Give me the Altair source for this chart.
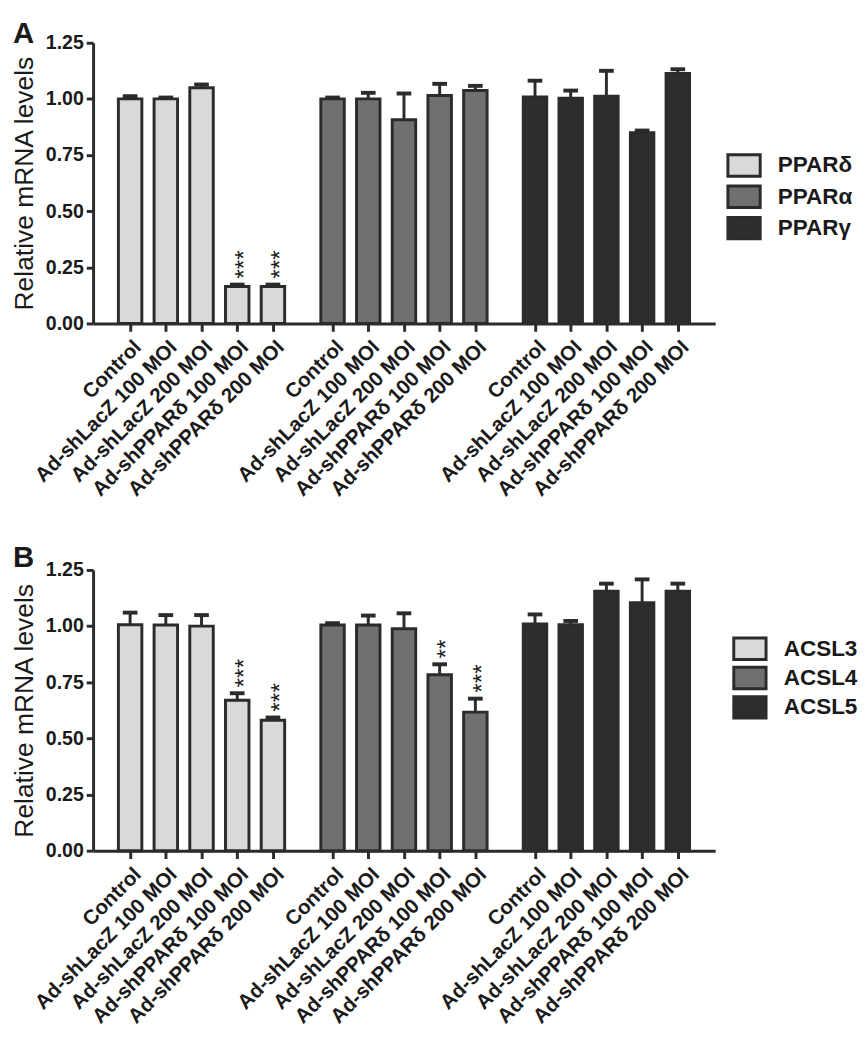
import json
import altair as alt
import pandas as pd

# ---------------- data ----------------
conditions = ["Control", "Ad-shLacZ 100 MOI", "Ad-shLacZ 200 MOI",
              "Ad-shPPARδ 100 MOI", "Ad-shPPARδ 200 MOI"]

genes_a = ["PPARδ", "PPARα", "PPARγ"]
a_ppard = [1.000, 1.000, 1.050, 0.165, 0.165]
a_ppard_err = [0.012, 0.006, 0.014, 0.008, 0.008]
a_ppara = [1.000, 1.000, 0.907, 1.015, 1.037]
a_ppara_err = [0.006, 0.027, 0.117, 0.052, 0.021]
a_pparg = [1.009, 1.003, 1.012, 0.849, 1.113]
a_pparg_err = [0.072, 0.034, 0.113, 0.010, 0.019]
a_sig = [["", "", "", "***", "***"], ["", "", "", "", ""], ["", "", "", "", ""]]

genes_b = ["ACSL3", "ACSL4", "ACSL5"]
b_acsl3 = [1.006, 1.005, 1.000, 0.670, 0.581]
b_acsl3_err = [0.054, 0.044, 0.049, 0.031, 0.012]
b_acsl4 = [1.005, 1.005, 0.988, 0.783, 0.617]
b_acsl4_err = [0.008, 0.042, 0.069, 0.047, 0.060]
b_acsl5 = [1.009, 1.006, 1.155, 1.104, 1.155]
b_acsl5_err = [0.043, 0.017, 0.034, 0.104, 0.034]
b_sig = [["", "", "", "***", "***"], ["", "", "", "**", "***"], ["", "", "", "", ""]]

y_ticks = [0, 0.25, 0.5, 0.75, 1.0, 1.25]

# ---------------- style ----------------
FILLS = ["#d8d9db", "#707072", "#2d2d2e"]
INK = "#2b2b2b"
TXT = "#1a1a1a"
FONT = "Liberation Sans"
GROUP_STEP = 5.67
W, H = 636, 287

tick_positions = [ci + gi * GROUP_STEP for gi in range(len(genes_a)) for ci in range(len(conditions))]
label_expr = (json.dumps(conditions, ensure_ascii=False)
              + f"[round(datum.value - floor(datum.value/5.6)*{GROUP_STEP})]")


def make_df(genes, means, errs, sigs):
    rows = []
    for gi, g in enumerate(genes):
        for ci, c in enumerate(conditions):
            rows.append(dict(gene=g, cond=c, gi=gi, ci=ci,
                             val=means[gi][ci], err=errs[gi][ci], sig=sigs[gi][ci]))
    return pd.DataFrame(rows)


def panel(df, genes, letter, letter_x, letter_y, legend_x, legend_y, row_pad):
    base = alt.Chart(df).transform_calculate(
        pos=f"datum.ci + datum.gi * {GROUP_STEP}",
        hi="datum.val + datum.err",
    )
    x = alt.X("pos:Q",
              scale=alt.Scale(domain=[-0.9, 16.25], nice=False, zero=False),
              axis=alt.Axis(values=tick_positions, labelExpr=label_expr,
                            labelAngle=-45, labelAlign="right", labelBaseline="top",
                            labelPadding=5, labelFontSize=21, labelOverlap=False,
                            labelFlush=False, labelBound=False, labelLimit=0,
                            tickSize=8, title=None, grid=False))
    y = alt.Y("val:Q",
              scale=alt.Scale(domain=[0, 1.25], nice=False),
              axis=alt.Axis(values=y_ticks, format=".2f", title="Relative mRNA levels",
                            tickSize=7, labelPadding=3, titlePadding=7, grid=False,
                            labelFontSize=20, titleFontSize=27, titleFontWeight="normal"))
    bars = base.mark_bar(size=24, stroke=INK, strokeWidth=3).encode(
        x=x, y=y,
        fill=alt.Fill("gene:N", scale=alt.Scale(domain=genes, range=FILLS),
                      legend=alt.Legend(orient="none", legendX=legend_x, legendY=legend_y,
                                        title=None, symbolType="M-1.5,-1H1.5V1H-1.5Z",
                                        symbolSize=484, symbolStrokeWidth=3,
                                        symbolStrokeColor=INK, symbolOpacity=1,
                                        labelFont=FONT, labelFontSize=23,
                                        labelFontWeight="bold", labelColor=TXT,
                                        labelOffset=22, rowPadding=row_pad, padding=0)),
    )
    rules = base.mark_rule(color=INK, strokeWidth=3).encode(
        x="pos:Q", y="val:Q", y2="hi:Q")
    caps = base.mark_tick(orient="horizontal", size=15, thickness=4, color=INK, opacity=1).encode(
        x="pos:Q", y="hi:Q")
    stars = base.mark_text(angle=270, align="left", baseline="middle", dx=6, dy=7,
                           fontSize=25, font=FONT, color=TXT).encode(
        x="pos:Q", y="hi:Q", text="sig:N")
    let = alt.Chart(pd.DataFrame({"t": [letter]})).mark_text(
        align="left", baseline="top", fontSize=30, fontWeight="bold", font=FONT, color=TXT
    ).encode(x=alt.value(letter_x), y=alt.value(letter_y), text="t:N")
    return alt.layer(bars, rules, caps, stars, let).properties(width=W, height=H)


df_a = make_df(genes_a, [a_ppard, a_ppara, a_pparg], [a_ppard_err, a_ppara_err, a_pparg_err], a_sig)
df_b = make_df(genes_b, [b_acsl3, b_acsl4, b_acsl5], [b_acsl3_err, b_acsl4_err, b_acsl5_err], b_sig)

pa = panel(df_a, genes_a, "A", -82, -24, W + 17, 113, -3)
pb = panel(df_b, genes_b, "B", -82, -27, W + 23, 68, -6)

chart = alt.concat(pa, pb, columns=1, spacing=44).resolve_scale(
    fill="independent"
).resolve_legend(
    fill="independent"
).properties(
    padding={"left": 3, "top": 0, "right": 0, "bottom": 0}
).configure(
    font=FONT,
).configure_view(
    stroke=None
).configure_axis(
    domainColor=INK, domainWidth=3, tickColor=INK, tickWidth=3,
    labelFont=FONT, labelFontWeight="bold", labelColor=TXT,
    titleFont=FONT, titleColor=TXT,
)

chart.save("out.html", embed_options={"renderer": "svg", "actions": False})
